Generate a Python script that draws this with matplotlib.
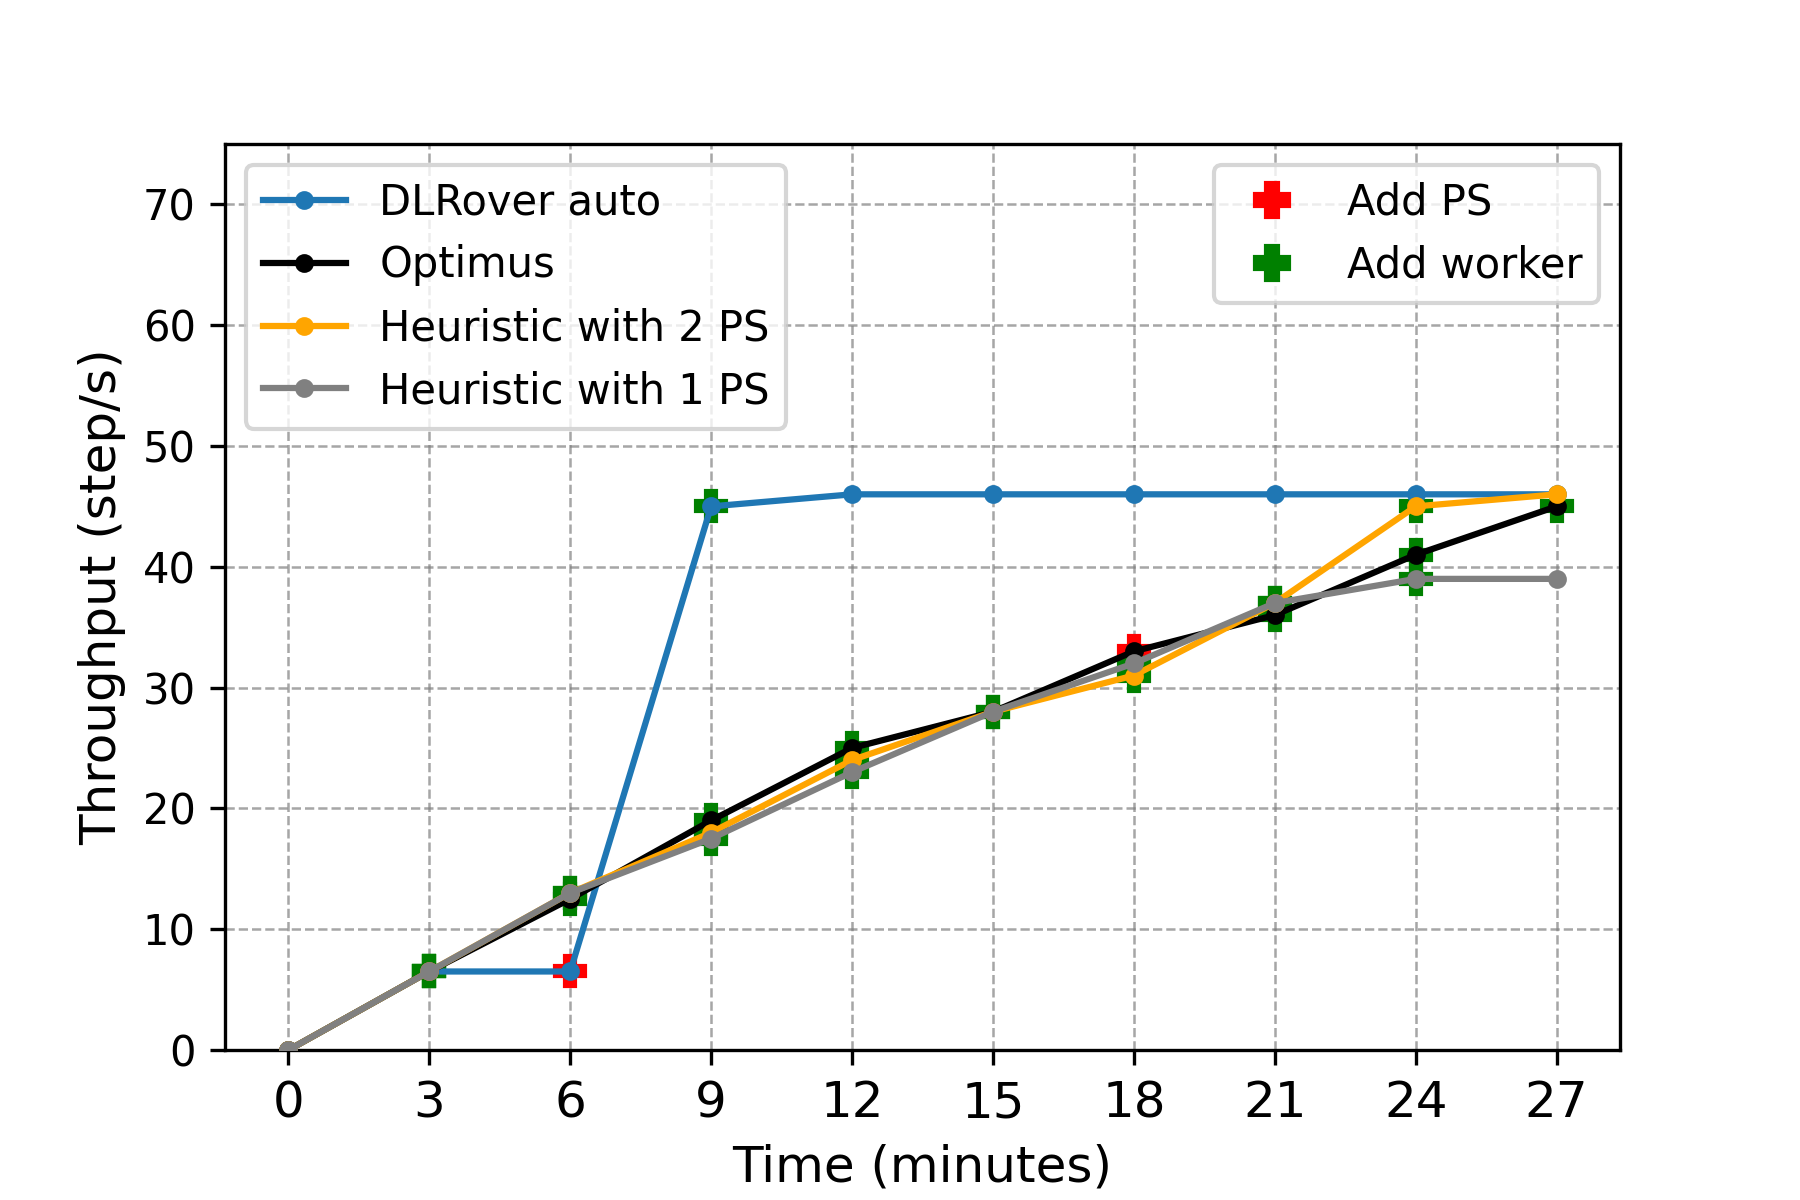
import matplotlib
matplotlib.use('Agg')
import matplotlib.pyplot as plt
from matplotlib.lines import Line2D

# time in minutes
minutes = [0, 3, 6, 9, 12, 15, 18, 21, 24, 27]

# throughput (step/s)
dlrover = [0, 6.5, 6.5, 45, 46, 46, 46, 46, 46, 46]
optimus = [0, 6.5, 12.5, 19, 25, 28, 33, 36, 41, 45]
heur_2ps = [0, 6.5, 13, 18, 24, 28, 31, 37, 45, 46]
heur_1ps = [0, 6.5, 13, 17.5, 23, 28, 32, 37, 39, 39]

# indices where a PS / worker was added
dlrover_ps = [2]
dlrover_worker = [1, 3]
optimus_ps = [6]
optimus_worker = [1, 2, 3, 4, 5, 7, 8, 9]
heur_2ps_worker = [1, 2, 3, 4, 6, 7, 8]
heur_1ps_worker = [1, 2, 3, 4, 5, 6, 7, 8]

fig, ax = plt.subplots(figsize=(6, 4), dpi=300)
fig.subplots_adjust(bottom=0.125)

series = [
    ('DLRover auto', dlrover, '#1f77b4', dlrover_ps, dlrover_worker),
    ('Optimus', optimus, 'black', optimus_ps, optimus_worker),
    ('Heuristic with 2 PS', heur_2ps, 'orange', [], heur_2ps_worker),
    ('Heuristic with 1 PS', heur_1ps, 'gray', [], heur_1ps_worker),
]

# scaling events first so the lines sit on top
for name, ys, c, ps_idx, wk_idx in series:
    ax.plot([minutes[i] for i in wk_idx], [ys[i] for i in wk_idx], 'P',
            color='green', markersize=7, zorder=2)
    ax.plot([minutes[i] for i in ps_idx], [ys[i] for i in ps_idx], 'P',
            color='red', markersize=7, zorder=2)

line_handles = []
for name, ys, c, ps_idx, wk_idx in series:
    h, = ax.plot(minutes, ys, '-o', color=c, linewidth=1.5, markersize=3.5,
                 label=name, zorder=3)
    line_handles.append(h)

ax.set_xticks(minutes)
ax.set_ylim(0, 75)
ax.tick_params(axis='x', labelsize=12)
ax.tick_params(axis='y', labelsize=10)
ax.set_xlabel('Time (minutes)', fontsize=12)
ax.set_ylabel('Throughput (step/s)', fontsize=12)
ax.grid(True, linestyle='--', color='gray', alpha=0.7, linewidth=0.6)

leg1 = ax.legend(handles=line_handles, loc='upper left', fontsize=10)
ax.add_artist(leg1)

plus_handles = [
    Line2D([], [], linestyle='none', marker='P', color='red', markersize=8, label='Add PS'),
    Line2D([], [], linestyle='none', marker='P', color='green', markersize=8, label='Add worker'),
]
ax.legend(handles=plus_handles, loc='upper right', fontsize=10)

fig.savefig('out.png', dpi=300)
